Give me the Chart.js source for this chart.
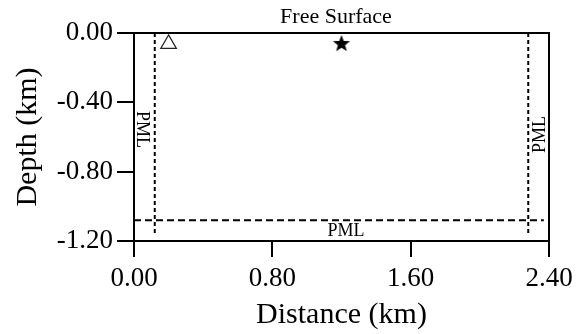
<!DOCTYPE html>
<html>
<head>
<meta charset="utf-8">
<script src="https://cdn.jsdelivr.net/npm/chart.js@4"></script>
<style>
    html,body{margin:0;padding:0;background:#fff;}
    #contenedor{width:586px;height:334px;position:relative;}
</style>
</head>
<body>
<div id="contenedor"><canvas id="Grafico1"></canvas></div>
<script>
// datos del modelo (km)
const xTicks=[0,0.8,1.6,2.4];
const yTicks=[0,-0.4,-0.8,-1.2];
const pmlIzqX=[0.12,0.12];
const pmlIzqY=[0,-1.17];
const pmlDerX=[2.28,2.28];
const pmlDerY=[0,-1.17];
const pmlAbajoX=[0,2.37];
const pmlAbajoY=[-1.08,-1.08];
const receptorX=[0.2];
const receptorY=[-0.063];
const fuenteX=[1.2];
const fuenteY=[-0.063];
const etiquetas=['Free Surface','PML','PML','PML'];

function puntos(xs,ys){
    let lista=[];
    for(let i=0;i<xs.length;i++){
        lista.push({x:xs[i],y:ys[i]});
    }
    return lista;
}

// estrella rellena para la fuente
function estrella(){
    let c=document.createElement('canvas');
    c.width=20;
    c.height=20;
    let ctx=c.getContext('2d');
    ctx.beginPath();
    for(let i=0;i<10;i++){
        let r=(i%2==0)?9:3.8;
        let a=-Math.PI/2+i*Math.PI/5;
        let px=10+r*Math.cos(a);
        let py=10+r*Math.sin(a);
        if(i==0){ctx.moveTo(px,py);}else{ctx.lineTo(px,py);}
    }
    ctx.closePath();
    ctx.fillStyle='#000';
    ctx.fill();
    return c;
}

const fuente='Liberation Serif';

// marco superior/derecho y textos
const marco={
    id:'marco',
    afterDatasetsDraw(chart){
        let ctx=chart.ctx;
        let a=chart.chartArea;
        let sx=chart.scales.x;
        let sy=chart.scales.y;
        ctx.save();
        ctx.strokeStyle='#000';
        ctx.lineWidth=2;
        ctx.beginPath();
        ctx.moveTo(a.left,a.top);
        ctx.lineTo(a.right,a.top);
        ctx.lineTo(a.right,a.bottom);
        ctx.stroke();
        ctx.fillStyle='#000';
        ctx.textAlign='center';
        ctx.textBaseline='middle';
        ctx.font='22px "'+fuente+'"';
        ctx.fillText(etiquetas[0],sx.getPixelForValue(1.168),sy.getPixelForValue(0.092));
        ctx.font='18px "'+fuente+'"';
        ctx.save();
        ctx.translate(sx.getPixelForValue(0.046),sy.getPixelForValue(-0.557));
        ctx.rotate(Math.PI/2);
        ctx.fillText(etiquetas[1],0,0);
        ctx.restore();
        ctx.save();
        ctx.translate(sx.getPixelForValue(2.348),sy.getPixelForValue(-0.585));
        ctx.rotate(-Math.PI/2);
        ctx.fillText(etiquetas[2],0,0);
        ctx.restore();
        ctx.fillText(etiquetas[3],sx.getPixelForValue(1.226),sy.getPixelForValue(-1.142));
        ctx.restore();
    }
};

let CanvasG1=document.getElementById('Grafico1').getContext('2d');
let datos={
    datasets:[
        {
            data:puntos(pmlIzqX,pmlIzqY),
            showLine:true,
            borderColor:'#000',
            borderWidth:2,
            borderDash:[4,3],
            pointRadius:0,
        },
        {
            data:puntos(pmlDerX,pmlDerY),
            showLine:true,
            borderColor:'#000',
            borderWidth:2,
            borderDash:[4,3],
            pointRadius:0,
        },
        {
            data:puntos(pmlAbajoX,pmlAbajoY),
            showLine:true,
            borderColor:'#000',
            borderWidth:2,
            borderDash:[7,4],
            pointRadius:0,
        },
        {
            data:puntos(receptorX,receptorY),
            pointStyle:'triangle',
            pointRadius:9,
            backgroundColor:'#fff',
            borderColor:'#222',
            borderWidth:1.2,
        },
        {
            data:puntos(fuenteX,fuenteY),
            pointStyle:estrella(),
            pointRadius:10,
        },
    ]
};
let opciones={
    responsive:true,
    maintainAspectRatio:false,
    animation:false,
    events:[],
    layout:{padding:{top:33,right:37,left:0,bottom:0}},
    plugins:{legend:{display:false},tooltip:{enabled:false}},
    scales:{
        x:{
            type:'linear',
            min:0,
            max:2.4,
            afterBuildTicks:function(scale){scale.ticks=xTicks.map(v=>({value:v}));},
            afterFit:function(scale){scale.height=93;},
            border:{display:true,color:'#000',width:2},
            grid:{drawOnChartArea:false,color:'#000',lineWidth:2,tickLength:16,tickColor:'#000'},
            ticks:{
                color:'#000',
                padding:6,
                font:{family:fuente,size:27},
                callback:function(v){return Number(v).toFixed(2);}
            },
            title:{display:true,text:'Distance (km)',color:'#000',font:{family:fuente,size:30},padding:{top:0,bottom:1}}
        },
        y:{
            type:'linear',
            min:-1.2,
            max:0,
            afterBuildTicks:function(scale){scale.ticks=yTicks.map(v=>({value:v}));},
            afterFit:function(scale){scale.width=134;},
            border:{display:true,color:'#000',width:2},
            grid:{drawOnChartArea:false,color:'#000',lineWidth:2,tickLength:17,tickColor:'#000'},
            ticks:{
                color:'#000',
                padding:4,
                font:{family:fuente,size:27},
                callback:function(v){return Number(v).toFixed(2);}
            },
            title:{display:true,text:'Depth (km)',color:'#000',font:{family:fuente,size:30},padding:{top:10,bottom:0}}
        }
    }
};
let G1=new Chart(CanvasG1,{
    type:'scatter',
    data:datos,
    options:opciones,
    plugins:[marco],
});
</script>
</body>
</html>
